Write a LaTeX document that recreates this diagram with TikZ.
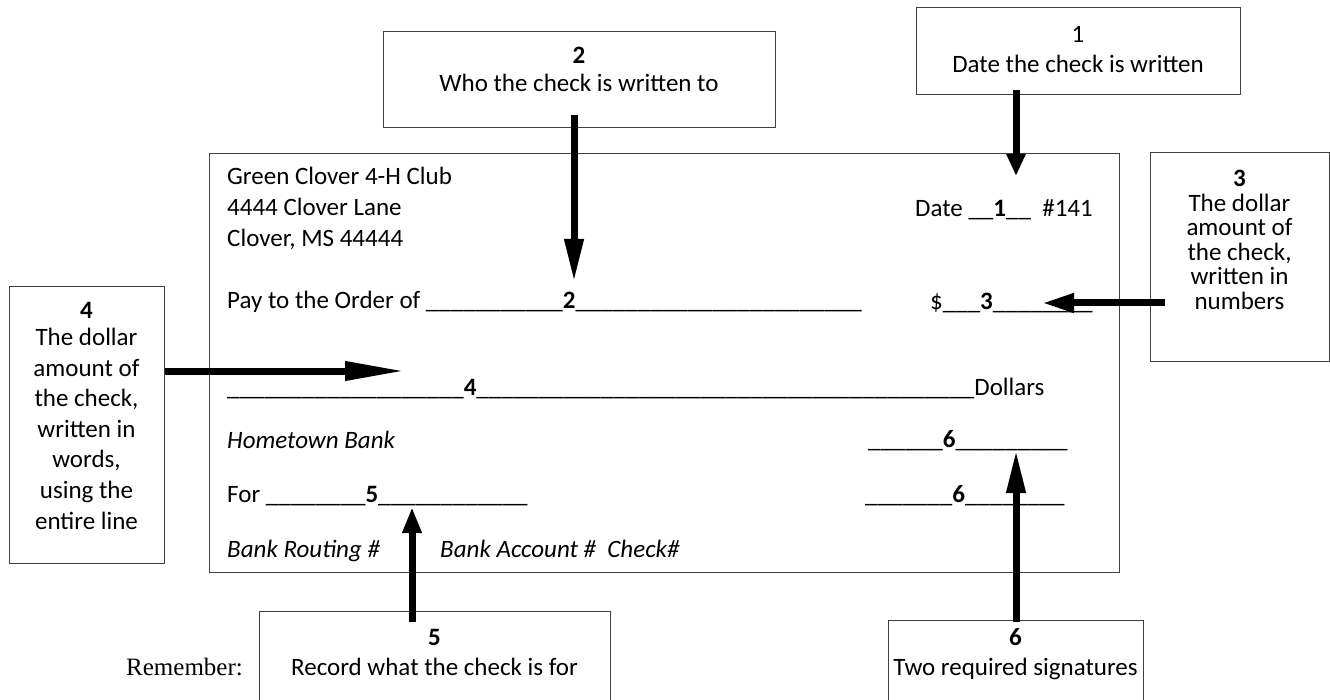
\documentclass[tikz,border=0pt]{standalone}
\usepackage{fontspec}
\setmainfont{Carlito}
\newfontfamily\remfont{Liberation Serif}
\usetikzlibrary{arrows.meta}

\newcommand{\blanks}[1]{\foreach \blankidx in {1,...,#1}{\_}}

\tikzset{
  callbox/.style={draw=black!75, line width=1pt, align=flush center, inner sep=0pt, anchor=base},
  checkline/.style={anchor=base west, inner sep=0pt},
  callout/.style={line width=7pt, -{Triangle[length=#1, width=18pt]}},
  callout/.default=40pt
}

\begin{document}
\begin{tikzpicture}[x=1pt, y=-1pt, font=\fontsize{25}{30}\selectfont]
  \useasboundingbox (0,0) rectangle (1330,700);

  % the check
  \node[draw=black!75, line width=1pt, anchor=north west, inner sep=0pt,
        minimum width=910pt, minimum height=419pt] (check) at (209,153) {};
  \node[checkline] (club) at (227,185) {Green Clover 4-H Club};
  \node[checkline] (street) at (227,216) {4444 Clover Lane};
  \node[checkline] (town) at (227,247) {Clover, MS 44444};
  \node[checkline] (dateline) at (915,217) {Date \blanks{2}\textbf{1}\blanks{2}\ \ \#141};
  \node[checkline] (payline) at (227,309) {Pay to the Order of \blanks{11}\textbf{2}\blanks{23}};
  \node[checkline] (figuresline) at (930,310) {\$\blanks{3}\textbf{3}\blanks{8}};
  \node[checkline] (wordsline) at (227,395) {\blanks{19}\textbf{4}\blanks{40}Dollars};
  \node[checkline] (bank) at (227,448) {\textit{Hometown Bank}};
  \node[checkline] (signA) at (868,447) {\blanks{6}\textbf{6}\blanks{9}};
  \node[checkline] (memoline) at (227,502) {For \blanks{8}\textbf{5}\blanks{12}};
  \node[checkline] (signB) at (865,502) {\blanks{7}\textbf{6}\blanks{8}};
  \node[checkline] (routing) at (227,557) {\textit{Bank Routing \#}};
  \node[checkline] (account) at (440,557) {\textit{Bank Account \#\ \ Check\#}};

  % call-out boxes
  \node[callbox, text width=324pt, text height=35pt, text depth=52pt] (datebox) at (1078,43)
    {1\\Date the check is written};
  \node[callbox, text width=392pt, text height=32pt, text depth=64pt,
        font=\fontsize{25}{28}\selectfont] (payeebox) at (579,64)
    {\textbf{2}\\Who the check is written to};
  \node[callbox, text width=179pt, text height=34pt, text depth=175pt,
        font=\fontsize{25}{24.5}\selectfont] (figuresbox) at (1239.5,187)
    {\textbf{3}\\The dollar\\amount of\\the check,\\written in\\numbers};
  \node[callbox, text width=155pt, text height=32pt, text depth=244pt,
        font=\fontsize{25}{30.6}\selectfont] (wordsbox) at (86.5,319)
    {\textbf{4}\\[-4pt]The dollar\\amount of\\the check,\\written in\\words,\\using the\\entire line};
  \node[callbox, text width=351pt, text height=34pt, text depth=60pt] (memobox) at (434.5,645)
    {\textbf{5}\\Record what the check is for};
  \node[callbox, text width=255pt, text height=25pt, text depth=60pt] (signbox) at (1015.5,645)
    {\textbf{6}\\Two required signatures};
  \node[checkline, font=\remfont\fontsize{25}{30}\selectfont] (remember) at (126,675) {Remember:};

  % arrows
  \coordinate (datetip) at (1016,176);
  \coordinate (payeetip) at (574,282);
  \coordinate (figurestip) at (1042,303);
  \coordinate (wordstip) at (405,371);
  \coordinate (memotip) at (412,507);
  \coordinate (signtip) at (1016,450);
  \draw[callout=22pt, shorten <=-5pt] (datebox.south -| datetip) -- (datetip);
  \draw[callout=43pt, shorten <=-13pt] (payeebox.south -| payeetip) -- (payeetip);
  \draw[callout=32pt, shorten <=-15pt] (figuresbox.west |- figurestip) -- (figurestip);
  \draw[callout=60pt] (wordsbox.east |- wordstip) -- (wordstip);
  \draw[callout=26pt, shorten <=-11pt] (memobox.north -| memotip) -- (memotip);
  \draw[callout=43pt, shorten <=-2pt] (signbox.north -| signtip) -- (signtip);
\end{tikzpicture}
\end{document}
